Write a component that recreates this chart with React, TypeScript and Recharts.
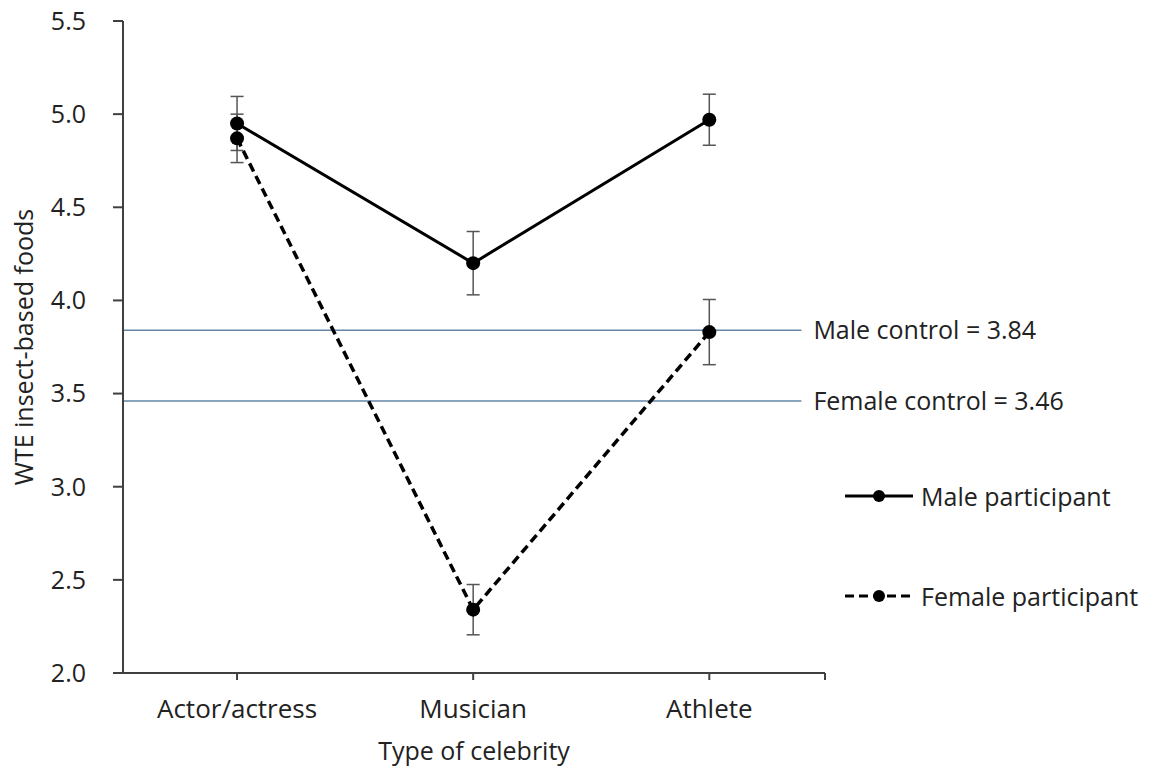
import React from 'react';
import {
  LineChart,
  Line,
  XAxis,
  YAxis,
  ErrorBar,
  ReferenceLine,
  Legend,
} from 'recharts';

const CATEGORIES = ['Actor/actress', 'Musician', 'Athlete'];
const MALE_MEAN = [4.95, 4.2, 4.97];
const MALE_ERR = [0.145, 0.17, 0.137];
const FEMALE_MEAN = [4.87, 2.34, 3.83];
const FEMALE_ERR = [0.13, 0.135, 0.175];
const Y_TICKS = [2.0, 2.5, 3.0, 3.5, 4.0, 4.5, 5.0, 5.5];
const MALE_CONTROL = 3.84;
const FEMALE_CONTROL = 3.46;

// x runs on category index so the axis can end a little past the last point
const X_DOMAIN: [number, number] = [-0.483, 2.49];
const CONTROL_LINE_END = 2.39;

const FONT = '"Open Sans", sans-serif';
const TEXT_COLOR = '#222';
const AXIS_COLOR = '#404040';
const CONTROL_COLOR = '#6386a8';

const data = CATEGORIES.map((name, idx) => ({
  idx,
  name,
  male: MALE_MEAN[idx],
  maleErr: MALE_ERR[idx],
  female: FEMALE_MEAN[idx],
  femaleErr: FEMALE_ERR[idx],
}));

const LegendContent = ({ payload }: any) => (
  <div style={{ fontFamily: FONT, fontSize: 25, color: TEXT_COLOR }}>
    {(payload || []).map((item: any, i: number) => (
      <div
        key={item.value}
        style={{ display: 'flex', alignItems: 'center', height: 34, marginBottom: i === 0 ? 66 : 0 }}
      >
        <svg width={72} height={20} style={{ marginRight: 6 }}>
          <line
            x1={2}
            y1={10}
            x2={70}
            y2={10}
            stroke="#000"
            strokeWidth={3}
            strokeDasharray={item.payload?.strokeDasharray}
          />
          <circle cx={36} cy={10} r={6} fill="#000" />
        </svg>
        <span>{item.value}</span>
      </div>
    ))}
  </div>
);

export default function App() {
  return (
    <div style={{ position: 'absolute', left: 0, top: 0, background: '#fff', fontFamily: FONT }}>
      <LineChart
        width={1155}
        height={767}
        data={data}
        margin={{ top: 21, right: 330, bottom: 0, left: 0 }}
      >
        <XAxis
          type="number"
          dataKey="idx"
          domain={X_DOMAIN}
          ticks={[0, 1, 2, X_DOMAIN[1]]}
          tickFormatter={(v: number) => CATEGORIES[v] ?? ''}
          height={94}
          stroke={AXIS_COLOR}
          strokeWidth={2}
          tickSize={7}
          tickMargin={20}
          tick={{ fill: TEXT_COLOR, fontSize: 26, fontFamily: FONT }}
          label={{
            value: 'Type of celebrity',
            position: 'insideBottom',
            offset: 7,
            fill: TEXT_COLOR,
            fontSize: 25,
            fontFamily: FONT,
          }}
        />
        <YAxis
          type="number"
          domain={[2, 5.5]}
          ticks={Y_TICKS}
          tickFormatter={(v: number) => v.toFixed(1)}
          width={123}
          stroke={AXIS_COLOR}
          strokeWidth={2}
          tickSize={10}
          tickMargin={27}
          tick={{ fill: TEXT_COLOR, fontSize: 25, fontFamily: FONT }}
          label={{
            value: 'WTE insect-based foods',
            angle: -90,
            position: 'insideLeft',
            offset: 24,
            fill: TEXT_COLOR,
            fontSize: 25,
            fontFamily: FONT,
            style: { textAnchor: 'middle' },
          }}
        />
        <ReferenceLine
          segment={[
            { x: X_DOMAIN[0], y: MALE_CONTROL },
            { x: CONTROL_LINE_END, y: MALE_CONTROL },
          ]}
          stroke={CONTROL_COLOR}
          strokeWidth={1.5}
          label={{
            value: `Male control = ${MALE_CONTROL.toFixed(2)}`,
            position: 'right',
            offset: 12,
            fill: TEXT_COLOR,
            fontSize: 25,
            fontFamily: FONT,
          }}
        />
        <ReferenceLine
          segment={[
            { x: X_DOMAIN[0], y: FEMALE_CONTROL },
            { x: CONTROL_LINE_END, y: FEMALE_CONTROL },
          ]}
          stroke={CONTROL_COLOR}
          strokeWidth={1.5}
          label={{
            value: `Female control = ${FEMALE_CONTROL.toFixed(2)}`,
            position: 'right',
            offset: 12,
            fill: TEXT_COLOR,
            fontSize: 25,
            fontFamily: FONT,
          }}
        />
        <Line
          type="linear"
          dataKey="female"
          name="Female participant"
          stroke="#000"
          strokeWidth={3.5}
          strokeDasharray="9 5"
          dot={{ r: 7, fill: '#000', stroke: '#000', strokeWidth: 0 }}
          isAnimationActive={false}
        >
          <ErrorBar dataKey="femaleErr" direction="y" width={6.5} stroke="#555" strokeWidth={1.5} />
        </Line>
        <Line
          type="linear"
          dataKey="male"
          name="Male participant"
          stroke="#000"
          strokeWidth={3}
          dot={{ r: 7, fill: '#000', stroke: '#000', strokeWidth: 0 }}
          isAnimationActive={false}
        >
          <ErrorBar dataKey="maleErr" direction="y" width={6.5} stroke="#555" strokeWidth={1.5} />
        </Line>
        <Legend
          layout="vertical"
          align="center"
          verticalAlign="middle"
          content={(props: any) => (
            <LegendContent payload={[...(props.payload || [])].reverse()} />
          )}
          wrapperStyle={{ position: 'absolute', left: 843, top: 479, width: 310 }}
        />
      </LineChart>
    </div>
  );
}
